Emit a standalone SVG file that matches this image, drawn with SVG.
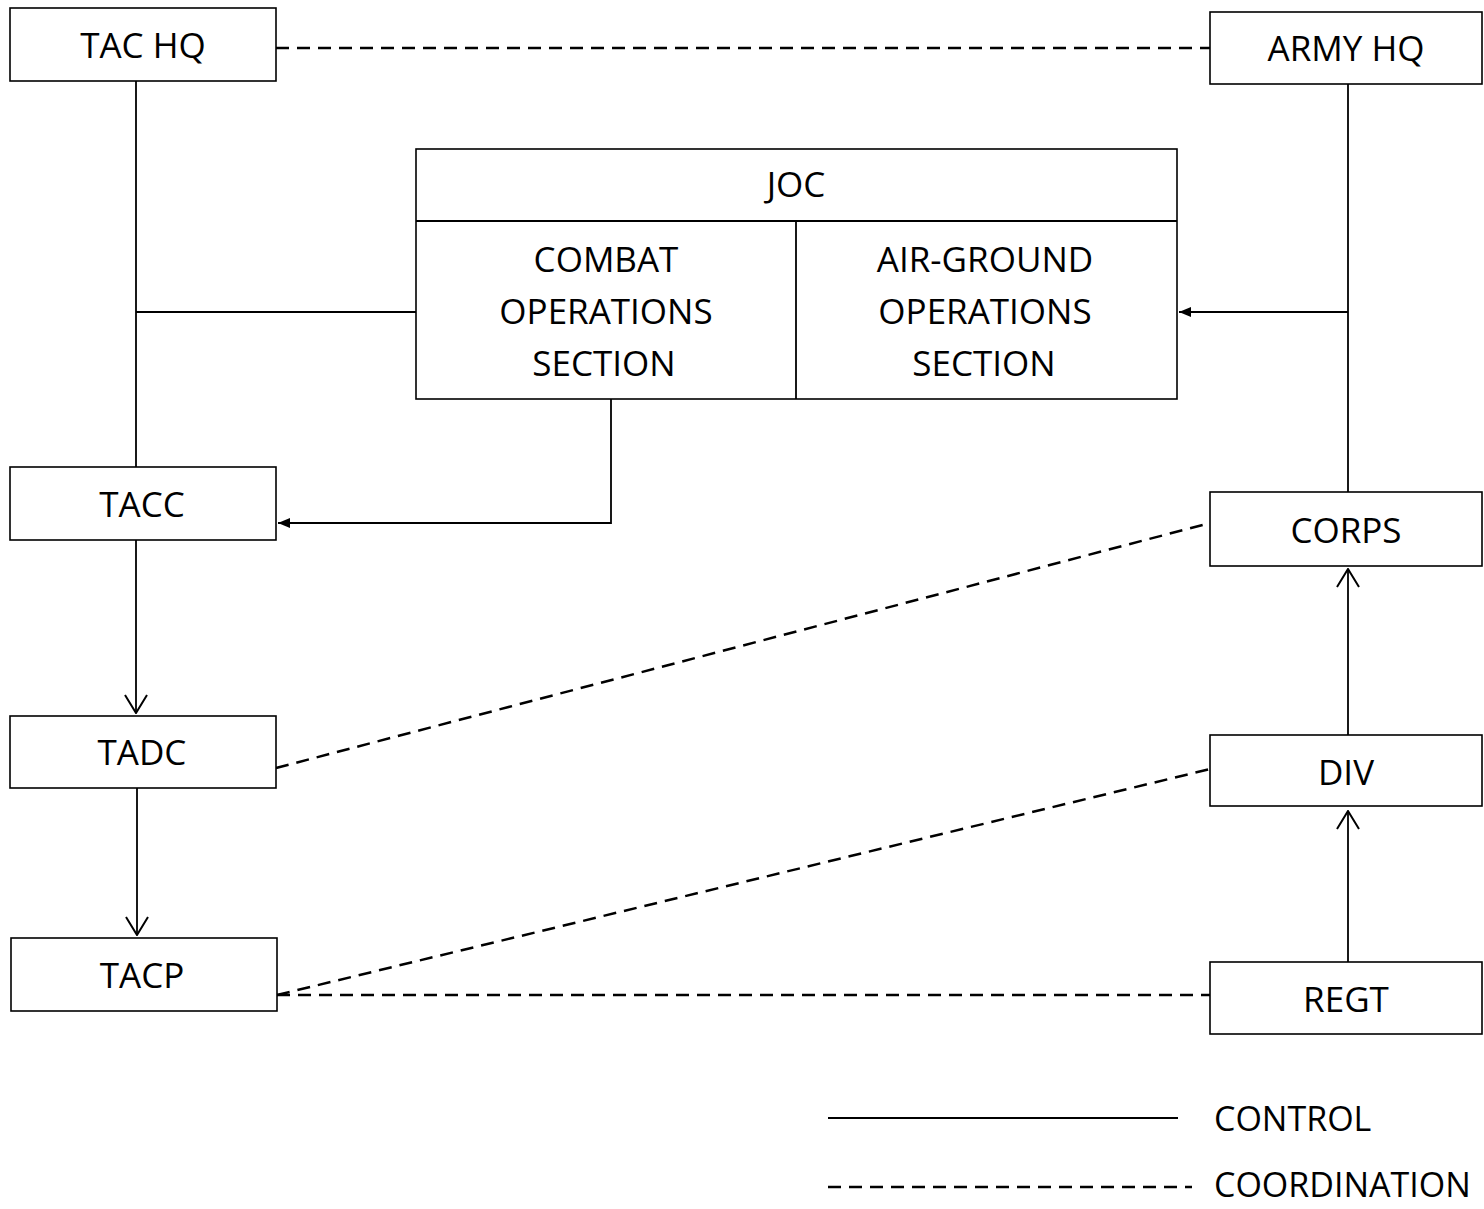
<svg xmlns="http://www.w3.org/2000/svg" width="1484" height="1209" viewBox="0 0 1484 1209">
<style>
.box{fill:#fff;stroke:#000;stroke-width:1.6}
.t{font-family:"Open Sans","Noto Sans",sans-serif;font-size:35px;fill:#000;text-anchor:middle}
.lg{font-family:"Open Sans","Noto Sans",sans-serif;font-size:34px;fill:#000;text-anchor:start}
.ctl{fill:none;stroke:#000;stroke-width:1.8}
.crd{fill:none;stroke:#000;stroke-width:2.5;stroke-dasharray:13 8}
</style>
<defs>
<marker id="fill" viewBox="0 0 12 10" refX="12" refY="5" markerWidth="12" markerHeight="10" markerUnits="userSpaceOnUse" orient="auto">
<path d="M0,0 L12,5 L0,10 Z" fill="#000"/>
</marker>
<marker id="open" viewBox="0 0 20 24" refX="19" refY="12" markerWidth="20" markerHeight="24" markerUnits="userSpaceOnUse" orient="auto">
<path d="M1,1 L19,12 L1,23" fill="none" stroke="#000" stroke-width="2"/>
</marker>
</defs>
<g id="connectors">
<line class="crd" x1="276" y1="48" x2="1210" y2="48"/>
<line class="ctl" x1="136" y1="81" x2="136" y2="467"/>
<line class="ctl" x1="136" y1="312" x2="416" y2="312"/>
<line class="ctl" x1="1348" y1="84" x2="1348" y2="492"/>
<line class="ctl" x1="1348" y1="312" x2="1179" y2="312" marker-end="url(#fill)"/>
<polyline class="ctl" points="611,399 611,523 278,523" marker-end="url(#fill)"/>
<line class="ctl" x1="136" y1="540" x2="136" y2="713" marker-end="url(#open)"/>
<line class="ctl" x1="137" y1="788" x2="137" y2="935" marker-end="url(#open)"/>
<line class="ctl" x1="1348" y1="735" x2="1348" y2="569" marker-end="url(#open)"/>
<line class="ctl" x1="1348" y1="962" x2="1348" y2="811" marker-end="url(#open)"/>
<line class="crd" x1="276" y1="768" x2="1210" y2="523"/>
<line class="crd" x1="277" y1="995" x2="1210" y2="769"/>
<line class="crd" x1="277" y1="995" x2="1210" y2="995"/>
</g>
<g id="tac-hq"><rect class="box" x="10" y="8" width="266" height="73"/><text class="t" x="143" y="58">TAC HQ</text></g>
<g id="army-hq"><rect class="box" x="1210" y="12" width="272" height="72"/><text class="t" x="1346" y="61">ARMY HQ</text></g>
<g id="joc">
<rect class="box" x="416" y="149" width="761" height="250"/>
<line class="ctl" x1="416" y1="221" x2="1177" y2="221"/>
<line class="ctl" x1="796" y1="221" x2="796" y2="399" stroke-width="1"/>
<text class="t" x="796" y="197">JOC</text>
</g>
<g id="combat-operations-section">
<text class="t" x="606" y="272">COMBAT</text>
<text class="t" x="606" y="324">OPERATIONS</text>
<text class="t" x="604" y="376">SECTION</text>
</g>
<g id="air-ground-operations-section">
<text class="t" x="985" y="272">AIR-GROUND</text>
<text class="t" x="985" y="324">OPERATIONS</text>
<text class="t" x="984" y="376">SECTION</text>
</g>
<g id="tacc"><rect class="box" x="10" y="467" width="266" height="73"/><text class="t" x="142" y="517">TACC</text></g>
<g id="tadc"><rect class="box" x="10" y="716" width="266" height="72"/><text class="t" x="142" y="765">TADC</text></g>
<g id="tacp"><rect class="box" x="11" y="938" width="266" height="73"/><text class="t" x="142" y="988">TACP</text></g>
<g id="corps"><rect class="box" x="1210" y="492" width="272" height="74"/><text class="t" x="1346" y="543">CORPS</text></g>
<g id="div"><rect class="box" x="1210" y="735" width="272" height="71"/><text class="t" x="1346" y="785">DIV</text></g>
<g id="regt"><rect class="box" x="1210" y="962" width="272" height="72"/><text class="t" x="1346" y="1012">REGT</text></g>
<g id="legend">
<line class="ctl" x1="828" y1="1118" x2="1178" y2="1118"/>
<line class="crd" x1="828" y1="1187" x2="1192" y2="1187"/>
<text class="lg" x="1214" y="1131">CONTROL</text>
<text class="lg" x="1214" y="1197">COORDINATION</text>
</g>
</svg>
